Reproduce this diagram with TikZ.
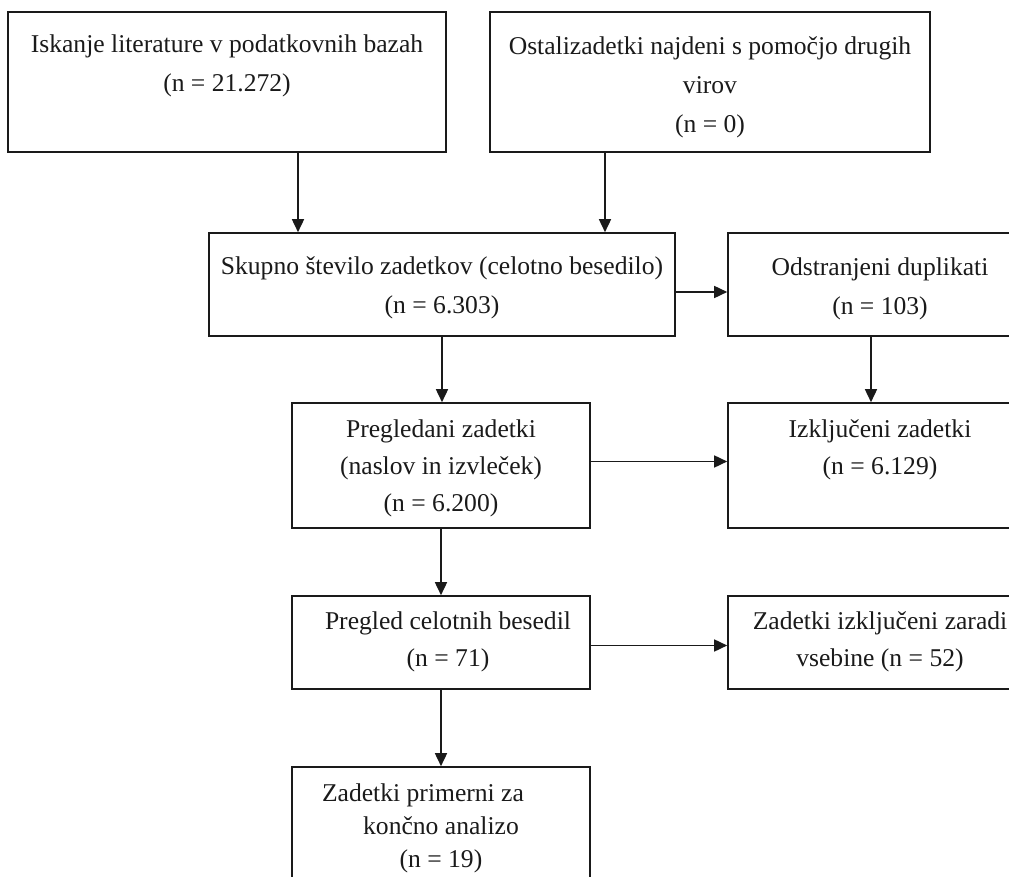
\documentclass[tikz,border=0pt]{standalone}
\usepackage{fontspec}
\setmainfont{Liberation Serif}
\usetikzlibrary{arrows.meta,positioning}
\definecolor{revInk}{HTML}{1A1A1A}
\tikzset{
  flowframe/.style={rectangle,draw=revInk,line width=0.8pt,inner sep=0pt},
  flowtext/.style={anchor=north,align=center,inner sep=0pt,text=revInk,
    font=\fontsize{12.8}{19.5}\selectfont},
  flowtight/.style={flowtext,font=\fontsize{12.8}{18.5}\selectfont},
  arrow/.style={-{Triangle[length=6.5pt,width=6pt]},draw=revInk,line width=0.8pt}
}

\begin{document}
\begin{tikzpicture}[x=0.5pt,y=-0.5pt]
  \useasboundingbox (0,0) rectangle (1009,877);
  \clip (0,0) rectangle (1009,877);
  % frames
  \node[flowframe,minimum width=219pt,minimum height=70pt] (s) at (227,82) {};
  \node[flowframe,minimum width=220pt,minimum height=70pt] (o) at (710,82) {};
  \node[flowframe,minimum width=233pt,minimum height=51.5pt] (c) at (442,284.5) {};
  \node[flowframe,minimum width=152pt,minimum height=51.5pt] (d) at (880,284.5) {};
  \node[flowframe,minimum width=149pt,minimum height=62.5pt] (e) at (441,465.5) {};
  \node[flowframe,minimum width=152pt,minimum height=62.5pt] (x) at (880,465.5) {};
  \node[flowframe,minimum width=149pt,minimum height=46.5pt] (f) at (441,642.5) {};
  \node[flowframe,minimum width=152pt,minimum height=46.5pt] (z) at (880,642.5) {};
  \node[flowframe,minimum width=149pt,minimum height=64pt] (i) at (441,831) {};
  % texts
  \node[flowtext] (st) at ([yshift=-11.5pt]s.north) {Iskanje literature v podatkovnih bazah\\(n = 21.272)};
  \node[flowtext] (ot) at ([yshift=-12.5pt]o.north) {Ostalizadetki najdeni s pomočjo drugih\\virov\\(n = 0)};
  \node[flowtext] (ct) at ([yshift=-12pt]c.north) {Skupno število zadetkov (celotno besedilo)\\(n = 6.303)};
  \node[flowtext] (dt) at ([yshift=-12.5pt]d.north) {Odstranjeni duplikati\\(n = 103)};
  \node[flowtight] (et) at ([yshift=-8.5pt]e.north) {Pregledani zadetki\\(naslov in izvleček)\\(n = 6.200)};
  \node[flowtight] (xt) at ([yshift=-8.5pt]x.north) {Izključeni zadetki\\(n = 6.129)};
  \node[flowtight] (ft) at ([xshift=3.5pt,yshift=-8pt]f.north) {Pregled celotnih besedil\\(n = 71)};
  \node[flowtight] (zt) at ([yshift=-8pt]z.north) {Zadetki izključeni zaradi\\vsebine (n = 52)};
  \node[flowtext,font=\fontsize{12.8}{16.5}\selectfont] (it) at ([yshift=-8.5pt]i.north)
    {Zadetki primerni za\hspace*{18pt}\\končno analizo\\(n = 19)};
  % connectors
  \draw[arrow] ([xshift=35.5pt]s.south) -- ([xshift=35.5pt]s.south |- c.north);
  \draw[arrow] ([xshift=-52.5pt]o.south) -- ([xshift=-52.5pt]o.south |- c.north);
  \draw[arrow] ([yshift=-3.75pt]c.east) -- ([yshift=-3.75pt]c.east -| d.west);
  \draw[arrow] ([xshift=-4.5pt]d.south) -- ([xshift=-4.5pt]d.south |- x.north);
  \draw[arrow] (c.south) -- (c.south |- e.north);
  \draw[arrow] ([yshift=2pt]e.east) -- ([yshift=2pt]e.east -| x.west);
  \draw[arrow] (e.south) -- (f.north);
  \draw[arrow] ([yshift=-1.5pt]f.east) -- ([yshift=-1.5pt]f.east -| z.west);
  \draw[arrow] (f.south) -- (i.north);
\end{tikzpicture}
\end{document}
